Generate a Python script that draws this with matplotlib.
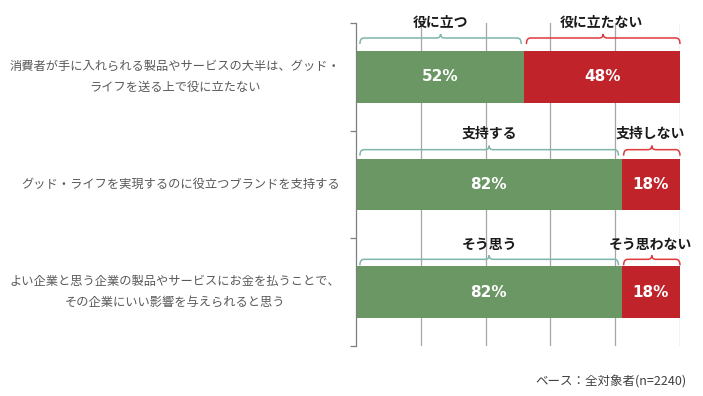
import matplotlib
matplotlib.use("Agg")
import matplotlib.pyplot as plt
from matplotlib.path import Path
from matplotlib.patches import PathPatch

plt.rcParams['font.family'] = ['Noto Sans CJK JP', 'DejaVu Sans']

categories = [
    "消費者が手に入れられる製品やサービスの大半は、グッド・\nライフを送る上で役に立たない",
    "グッド・ライフを実現するのに役立つブランドを支持する",
    "よい企業と思う企業の製品やサービスにお金を払うことで、\nその企業にいい影響を与えられると思う",
]
positive = [52, 82, 82]
negative = [48, 18, 18]
pos_labels = ["役に立つ", "支持する", "そう思う"]
neg_labels = ["役に立たない", "支持しない", "そう思わない"]
footnote = "ベース：全対象者(n=2240)"

GREEN = "#6B9764"
RED = "#C0232A"
BR_GREEN = "#7FB5AA"
BR_RED = "#E0393C"

W, H = 703, 396
fig = plt.figure(figsize=(W / 100, H / 100), dpi=100)
left, right, top, bottom = 356, 680, 23, 346
ax = fig.add_axes([left / W, 1 - bottom / H, (right - left) / W, (bottom - top) / H])

n = len(categories)
ax.set_xlim(0, 100)
ax.set_ylim(n - 0.5, -0.5)
px = 1.0 / ((bottom - top) / n)   # data units per pixel (y)
pxx = 100.0 / (right - left)      # data units per pixel (x)

for x in [20, 40, 60, 80, 100]:
    ax.axvline(x, color="#A6A6A6", lw=0.9, zorder=0)

bar_h = 0.48
ys = list(range(n))
ax.barh(ys, positive, height=bar_h, color=GREEN, zorder=2)
ax.barh(ys, negative, left=positive, height=bar_h, color=RED, zorder=2)

for i in range(n):
    ax.text(positive[i] / 2, i, f"{positive[i]}%", ha="center", va="center",
            color="white", fontsize=11, fontweight="bold", family="DejaVu Sans", zorder=3)
    ax.text(positive[i] + negative[i] / 2, i, f"{negative[i]}%", ha="center", va="center",
            color="white", fontsize=11, fontweight="bold", family="DejaVu Sans", zorder=3)


def bracket(x0, x1, y, color):
    r = 4 * pxx
    dy = 6 * px
    up = 4 * px
    xm = (x0 + x1) / 2
    verts = [(x0, y + dy), (x0, y), (x0 + r, y),
             (xm - r, y), (xm, y), (xm, y - up),
             (xm, y), (xm + r, y),
             (x1 - r, y), (x1, y), (x1, y + dy)]
    codes = [Path.MOVETO, Path.CURVE3, Path.CURVE3,
             Path.LINETO, Path.CURVE3, Path.CURVE3,
             Path.CURVE3, Path.CURVE3,
             Path.LINETO, Path.CURVE3, Path.CURVE3]
    ax.add_patch(PathPatch(Path(verts, codes), fill=False, edgecolor=color,
                           lw=1.1, clip_on=False, zorder=3))


br_off = [13, 9, 7]
lab_off = [28, 25, 21]
for i in range(n):
    ytop = i - bar_h / 2
    yb = ytop - br_off[i] * px
    yl = ytop - lab_off[i] * px
    g0, g1 = 1.2, positive[i] - 1.0
    r0, r1 = positive[i] + 0.6, 100
    bracket(g0, g1, yb, BR_GREEN)
    bracket(r0, r1, yb, BR_RED)
    ax.text((g0 + g1) / 2, yl, pos_labels[i], ha="center", va="center",
            fontsize=10, fontweight="bold", color="#1a1a1a", clip_on=False)
    ax.text((r0 + r1) / 2 - 0.5, yl, neg_labels[i], ha="center", va="center",
            fontsize=10, fontweight="bold", color="#1a1a1a", clip_on=False)

for s in ["top", "right", "bottom"]:
    ax.spines[s].set_visible(False)
ax.spines["left"].set_color("#7F7F7F")
ax.spines["left"].set_linewidth(0.9)
ax.set_xticks([])
ax.set_yticks([-0.5, 0.5, 1.5, 2.5])
ax.set_yticklabels([])
ax.tick_params(axis="y", length=4, color="#7F7F7F", width=0.9)

for i, c in enumerate(categories):
    yfig = ax.transData.transform((0, i))[1] / fig.dpi / (H / 100)
    fig.text(340 / W, yfig, c, ha="right", va="center", multialignment="center",
             fontsize=8.8, color="#595959", linespacing=1.75)

fig.text(686 / W, 1 - 382 / H, footnote, ha="right", va="center",
         fontsize=9, color="#404040")

fig.savefig("out.png", dpi=100)
